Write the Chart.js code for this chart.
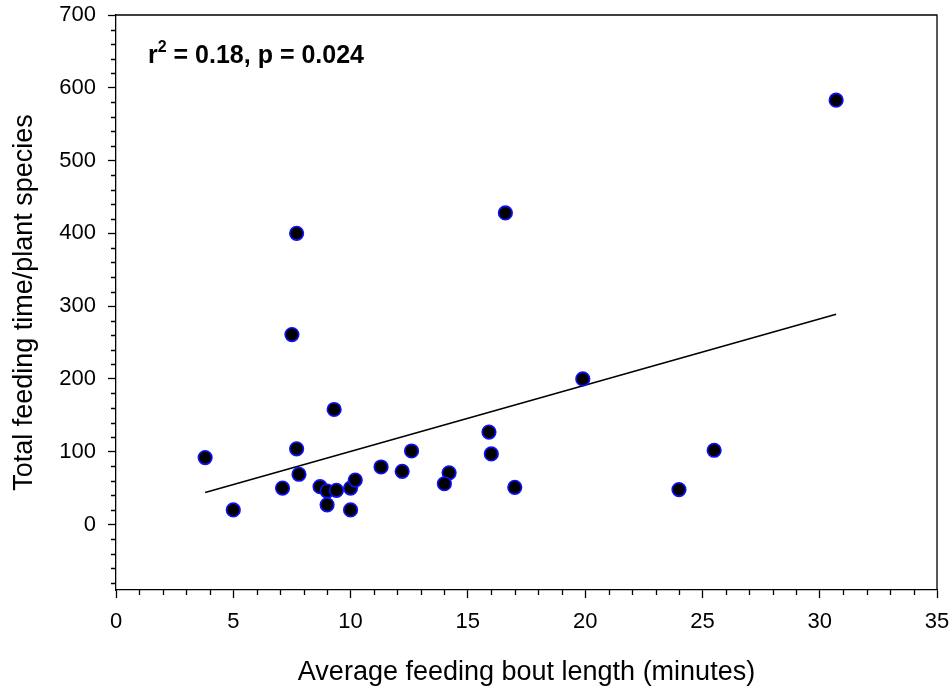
<!DOCTYPE html>
<html>
<head>
<meta charset="utf-8">
<script src="https://cdn.jsdelivr.net/npm/chart.js@4"></script>
<style>
  html, body { margin: 0; padding: 0; background: #fff; }
  #wrap { width: 952px; height: 692px; }
</style>
</head>
<body>
<div id="wrap"><canvas id="scatter"></canvas></div>
<script>
// bout length (min) vs total feeding time per plant species
const boutLength = [7.7, 7.5, 9.3, 7.7, 3.8, 7.8, 7.1, 5.0, 8.7, 9.0, 9.4, 10.0, 10.2, 9.0,
  10.0, 11.3, 12.2, 12.6, 14.2, 14.0, 16.6, 19.9, 15.9, 16.0, 17.0, 24.0, 25.5, 30.7];
const feedingTime = [400, 261, 158, 104, 92, 69, 50, 20, 52, 46, 47, 50, 61, 27,
  20, 79, 73, 101, 71, 56, 428, 200, 127, 97, 51, 48, 102, 583];

// fitted regression line, end points
const fitX = [3.8, 30.7];
const fitY = [44, 289];

const xTicks = [0, 5, 10, 15, 20, 25, 30, 35];
const yTicks = [0, 100, 200, 300, 400, 500, 600, 700];
const xMinorStep = 1;
const yMinorStep = 20;

const statsText = ['r', '2', ' = 0.18, p = 0.024'];
const xTitle = 'Average feeding bout length (minutes)';
const yTitle = 'Total feeding time/plant species';

const FONT = 'Arial, "Liberation Sans", sans-serif';

const axisExtras = {
  id: 'axisExtras',
  afterDraw(chart) {
    const ctx = chart.ctx;
    const a = chart.chartArea;
    const xs = chart.scales.x, ys = chart.scales.y;
    ctx.save();
    ctx.strokeStyle = '#000';
    ctx.lineWidth = 1.3;
    // box top and right
    ctx.beginPath();
    ctx.moveTo(a.left, a.top);
    ctx.lineTo(a.right, a.top);
    ctx.lineTo(a.right, a.bottom);
    ctx.stroke();
    // minor ticks
    ctx.beginPath();
    for (let v = xs.min; v <= xs.max; v += xMinorStep) {
      if (xTicks.includes(v)) continue;
      const px = Math.round(xs.getPixelForValue(v)) + 0.5;
      ctx.moveTo(px, a.bottom);
      ctx.lineTo(px, a.bottom + 5);
    }
    for (let v = -80; v <= ys.max; v += yMinorStep) {
      if (yTicks.includes(v)) continue;
      const py = Math.round(ys.getPixelForValue(v)) + 0.5;
      ctx.moveTo(a.left, py);
      ctx.lineTo(a.left - 5, py);
    }
    ctx.stroke();

    // axis titles
    ctx.fillStyle = '#000';
    ctx.font = '27px ' + FONT;
    ctx.textAlign = 'center';
    ctx.textBaseline = 'alphabetic';
    ctx.fillText(xTitle, (a.left + a.right) / 2, 680);
    ctx.save();
    ctx.translate(32, (a.top + a.bottom) / 2);
    ctx.rotate(-Math.PI / 2);
    ctx.fillText(yTitle, 0, 0);
    ctx.restore();

    // r^2 / p annotation
    ctx.textAlign = 'left';
    let x = 148;
    const base = 63;
    ctx.font = 'bold 25px ' + FONT;
    ctx.fillText(statsText[0], x, base);
    x += ctx.measureText(statsText[0]).width;
    ctx.font = 'bold 16px ' + FONT;
    ctx.fillText(statsText[1], x, base - 11);
    x += ctx.measureText(statsText[1]).width;
    ctx.font = 'bold 25px ' + FONT;
    ctx.fillText(statsText[2], x, base);
    ctx.restore();
  }
};

new Chart(document.getElementById('scatter'), {
  type: 'scatter',
  data: {
    datasets: [{
      label: 'Species',
      data: boutLength.map((v, i) => ({ x: v, y: feedingTime[i] })),
      backgroundColor: '#000',
      borderColor: '#1010ff',
      borderWidth: 1.6,
      pointRadius: 6.8,
      pointHoverRadius: 6.8
    }, {
      type: 'line',
      label: 'Fit',
      data: fitX.map((v, i) => ({ x: v, y: fitY[i] })),
      borderColor: '#000',
      borderWidth: 1.6,
      pointRadius: 0,
      fill: false
    }]
  },
  options: {
    responsive: true,
    maintainAspectRatio: false,
    animation: false,
    layout: { padding: { top: 15, right: 15, left: 0, bottom: 0 } },
    plugins: {
      legend: { display: false },
      tooltip: { enabled: false }
    },
    scales: {
      x: {
        type: 'linear',
        min: 0,
        max: 35,
        afterBuildTicks: s => { s.ticks = xTicks.map(v => ({ value: v })); },
        afterFit: s => { s.height = 102; s.paddingLeft = 0; s.paddingRight = 0; },
        grid: { drawOnChartArea: false, tickLength: 8, tickColor: '#000', tickWidth: 1.3 },
        border: { color: '#000', width: 1.3 },
        ticks: { color: '#000', font: { family: FONT, size: 22 }, padding: 11, maxRotation: 0 }
      },
      y: {
        type: 'linear',
        min: -90,
        max: 700,
        afterBuildTicks: s => { s.ticks = yTicks.map(v => ({ value: v })); },
        afterFit: s => { s.width = 116; s.paddingTop = 0; s.paddingBottom = 0; },
        grid: { drawOnChartArea: false, tickLength: 8, tickColor: '#000', tickWidth: 1.3 },
        border: { color: '#000', width: 1.3 },
        ticks: { color: '#000', font: { family: FONT, size: 22 }, padding: 12 }
      }
    }
  },
  plugins: [axisExtras]
});
</script>
</body>
</html>
